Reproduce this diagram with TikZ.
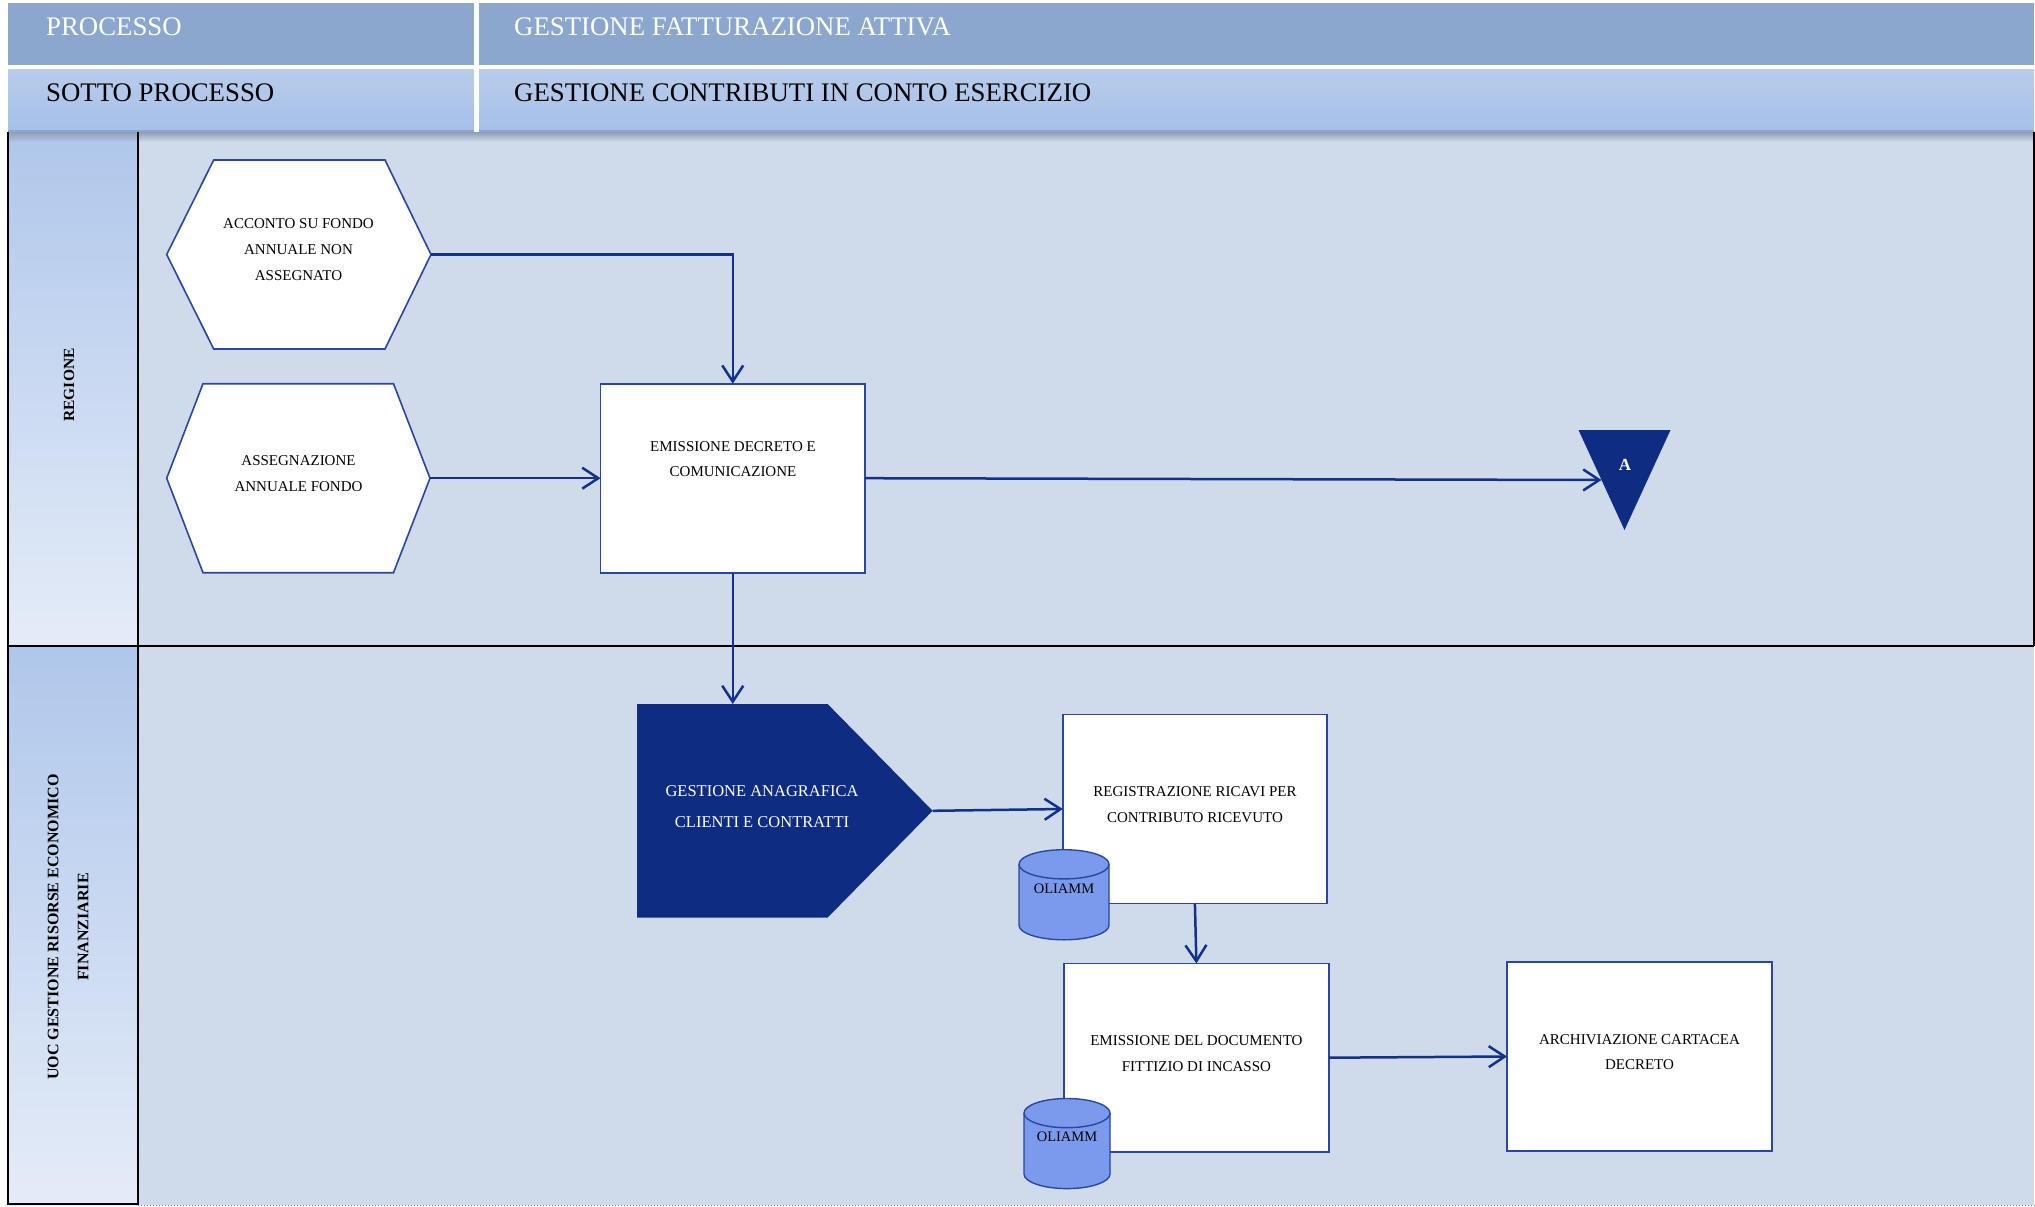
\documentclass[tikz,border=0pt]{standalone}
\usepackage{fontspec}
\setmainfont{Liberation Serif}
\usetikzlibrary{arrows.meta,calc}
\definecolor{hdrA}{HTML}{8BA7CD}
\definecolor{hdrBa}{HTML}{B8CCEB}
\definecolor{hdrBb}{HTML}{A6C0E9}
\definecolor{lanec}{HTML}{CFDBEA}
\definecolor{labA}{HTML}{AFC7EB}
\definecolor{labB}{HTML}{E5ECF8}
\definecolor{shadowc}{HTML}{8F9DB4}
\definecolor{darkb}{HTML}{0E2C82}
\definecolor{connc}{HTML}{12318A}
\definecolor{boxc}{HTML}{2A47A0}
\definecolor{cylc}{HTML}{7A9AEE}
\begin{document}
\begin{tikzpicture}[x=1pt,y=-1pt,
  hdrw/.style={anchor=base west, inner sep=0pt, text=white, font=\fontsize{26.8}{30}\selectfont},
  hdrk/.style={anchor=base west, inner sep=0pt, text=black, font=\fontsize{26.8}{30}\selectfont},
  lanelbl/.style={rotate=90, align=center, inner sep=0pt, font=\bfseries\fontsize{16}{30}\selectfont},
  frame/.style={inner sep=0pt, outer sep=0pt, rectangle, draw=none},
  procbox/.style={rectangle, draw=boxc, line width=1.6pt, fill=white, inner sep=0pt, outer sep=0pt},
  hexs/.style={draw=boxc, line width=1.6pt, fill=white},
  btxt/.style={align=center, inner sep=0pt, text=black, font=\fontsize{15}{25.5}\selectfont},
  cyls/.style={draw=boxc, line width=1.4pt, fill=cylc},
  conn/.style={draw=connc, line width=2.5pt, -{Straight Barb[length=16pt,width=21pt,line width=2.5pt]}}
]
\useasboundingbox (0,0) rectangle (2035,1207);
\fill[white] (0,0) rectangle (2035,1207);

% lanes
\fill[lanec] (138,132) rectangle (2034,1205);
\shade[top color=labA, bottom color=labB] (8,132) rectangle (138,646);
\shade[top color=labA, bottom color=labB] (8,646) rectangle (138,1205);

% header
\fill[hdrA] (8,3) rectangle (2034,65);
\fill[white] (8,65) rectangle (2034,70);
\shade[top color=hdrBa, bottom color=hdrBb] (8,70) rectangle (2034,131);
\fill[hdrA] (8,130) rectangle (2034,132.5);
\fill[white] (474,3) rectangle (478.5,132);
\shade[top color=shadowc, bottom color=lanec] (138,132) rectangle (2034,142);
\shade[top color=shadowc, bottom color=labA] (8,132) rectangle (138,142);

\node[hdrw] (proc) at (46,36) {PROCESSO};
\node[hdrw] (procv) at (514,36) {GESTIONE FATTURAZIONE ATTIVA};
\node[hdrk] (sott) at (46,101) {SOTTO PROCESSO};
\node[hdrk] (sottv) at (514,101) {GESTIONE CONTRIBUTI IN CONTO ESERCIZIO};

% lane borders
\draw[black, line width=2.6pt] (8,132) -- (8,1205);
\draw[black, line width=2.6pt] (138,132) -- (138,1205);
\draw[black, line width=2.6pt] (8,646) -- (2034,646);
\draw[black, line width=1.8pt] (2034,132) -- (2034,646);
\draw[black, line width=2pt] (8,1204) -- (138,1204);
\draw[gray, dotted, line width=1pt] (138,1205) -- (2035,1205);

\node[lanelbl, font=\bfseries\fontsize{15.5}{30}\selectfont] (lreg) at (69,385) {REGIONE};
\node[lanelbl] (luoc) at (68,927) {UOC GESTIONE RISORSE ECONOMICO\\FINANZIARIE};

% hexagons
\node[frame, minimum width=264.3pt, minimum height=189pt] (h1) at (298.85,254.5) {};
\draw[hexs] (h1.west) -- ([xshift=47pt]h1.north west) -- ([xshift=-46pt]h1.north east) -- (h1.east) -- ([xshift=-46pt]h1.south east) -- ([xshift=47pt]h1.south west) -- cycle;
\node[btxt, font=\fontsize{15}{26}\selectfont] (h1t) at (298.5,250) {ACCONTO SU FONDO\\ANNUALE NON\\ASSEGNATO};

\node[frame, minimum width=263.3pt, minimum height=189pt] (h2) at (298.35,478.2) {};
\draw[hexs] (h2.west) -- ([xshift=36.3pt]h2.north west) -- ([xshift=-36.5pt]h2.north east) -- (h2.east) -- ([xshift=-36.5pt]h2.south east) -- ([xshift=36.3pt]h2.south west) -- cycle;
\node[btxt, font=\fontsize{15}{26}\selectfont] (h2t) at (298.5,474) {ASSEGNAZIONE\\ANNUALE FONDO};

% boxes
\node[procbox, minimum width=264.5pt, minimum height=189pt] (e1) at (732.75,478.2) {};
\node[btxt, font=\fontsize{15}{25}\selectfont] (e1t) at (733,459.5) {EMISSIONE DECRETO E\\COMUNICAZIONE};

\node[procbox, minimum width=264.2pt, minimum height=189pt] (r1) at (1194.9,809) {};
\node[btxt, font=\fontsize{15}{26}\selectfont] (r1t) at (1195,805) {REGISTRAZIONE RICAVI PER\\CONTRIBUTO RICEVUTO};

\node[procbox, minimum width=265pt, minimum height=188.6pt] (d1) at (1196.4,1057.7) {};
\node[btxt] (d1t) at (1196.4,1053.8) {EMISSIONE DEL DOCUMENTO\\FITTIZIO DI INCASSO};

\node[procbox, minimum width=265pt, minimum height=189pt] (a1) at (1639.5,1056.5) {};
\node[btxt, font=\fontsize{15}{25}\selectfont] (a1t) at (1639.5,1052.5) {ARCHIVIAZIONE CARTACEA\\DECRETO};

% pentagon
\node[frame, minimum width=295.6pt, minimum height=213.6pt] (pg) at (784.8,810.8) {};
\fill[darkb] (pg.north west) -- ([xshift=-105pt]pg.north east) -- (pg.east) -- ([xshift=-105pt]pg.south east) -- (pg.south west) -- cycle;
\node[btxt, text=white, font=\fontsize{16.5}{31}\selectfont] (pgt) at (762,806.5) {GESTIONE ANAGRAFICA\\CLIENTI E CONTRATTI};

% triangle A
\node[frame, minimum width=92pt, minimum height=100pt] (tri) at (1624.5,480) {};
\fill[darkb] (tri.north west) -- (tri.north east) -- (tri.south) -- cycle;
\node[inner sep=0pt, text=white, font=\bfseries\fontsize{17}{20}\selectfont] (triA) at (1625,465) {A};
\coordinate (triIn) at ($(tri.north west)!0.5!(tri.south)$);

% cylinders
\fill[cylc] (1019,864.3) -- (1019,925.2) arc[start angle=180, end angle=360, x radius=45pt, y radius=14.6pt] -- (1109,864.3) -- cycle;
\draw[cyls] (1019,864.3) -- (1019,925.2) arc[start angle=180, end angle=360, x radius=45pt, y radius=14.6pt] -- (1109,864.3);
\draw[cyls] (1064,864.3) ellipse[x radius=45pt, y radius=14.6pt];
\node[inner sep=0pt, font=\fontsize{14.5}{16}\selectfont] (db1) at (1064,888.4) {OLIAMM};

\fill[cylc] (1024,1113.1) -- (1024,1174) arc[start angle=180, end angle=360, x radius=43pt, y radius=14.6pt] -- (1110,1113.1) -- cycle;
\draw[cyls] (1024,1113.1) -- (1024,1174) arc[start angle=180, end angle=360, x radius=43pt, y radius=14.6pt] -- (1110,1113.1);
\draw[cyls] (1067,1113.1) ellipse[x radius=43pt, y radius=14.6pt];
\node[inner sep=0pt, font=\fontsize{14.5}{16}\selectfont] (db2) at (1067,1137) {OLIAMM};

% connectors
\draw[conn] (h1.east) -| (e1.north);
\draw[conn] (h2.east) -- (e1.west);
\draw[conn] (e1.east) -- (triIn);
\draw[conn] (e1.south) -- (e1.south |- pg.north);
\draw[conn] (pg.east) -- (r1.west);
\draw[conn] (r1.south) -- (d1.north);
\draw[conn] (d1.east) -- (a1.west);
\end{tikzpicture}
\end{document}
